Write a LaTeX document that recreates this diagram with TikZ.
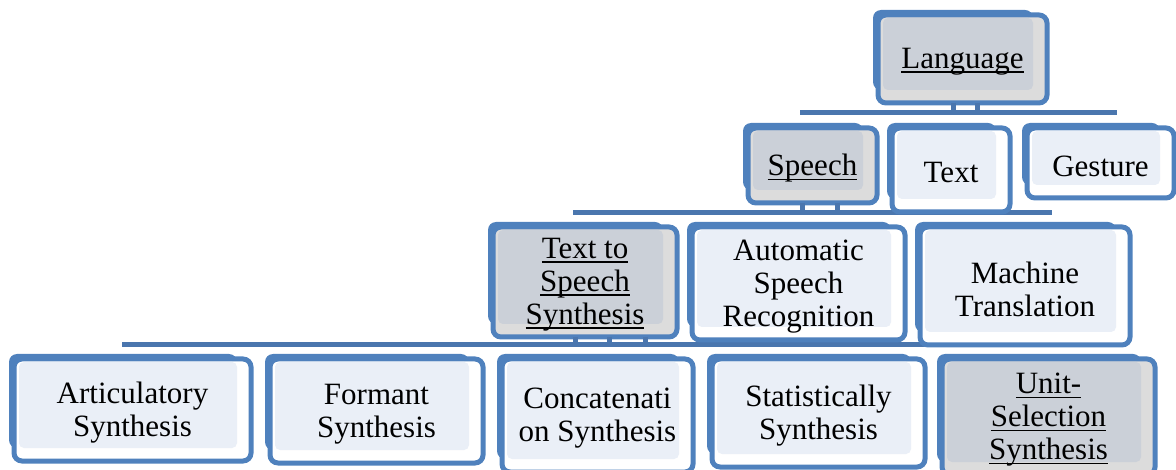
\documentclass[tikz,border=0pt]{standalone}
\usepackage{fontspec}
\setmainfont{Liberation Serif}
\usetikzlibrary{fit,calc}
\definecolor{boxblue}{HTML}{4F81BD}
\definecolor{connblue}{HTML}{4A76AE}
\definecolor{lightfill}{HTML}{EAEFF7}
\definecolor{greyfill}{HTML}{CBD0D8}
\definecolor{greyback}{HTML}{DCDCDC}
\newcommand{\myul}[1]{\setbox0=\hbox{#1}\rlap{\vrule height -2.6pt depth 4pt width \wd0}\box0}
\tikzset{
  back/.style={fill=boxblue, rounded corners=8pt},
  frame/.style={draw=boxblue, line width=5pt, rounded corners=8pt, inner sep=0pt, outer sep=0pt},
  plainframe/.style={frame, fill=white},
  greyframe/.style={frame, fill=greyback},
  plaininner/.style={fill=lightfill, rounded corners=5pt},
  greyinner/.style={fill=greyfill, rounded corners=5pt},
  boxtext/.style={font=\fontsize{31}{33}\selectfont, align=center, inner sep=0pt, text=black},
  conn/.style={draw=connblue, line width=5pt},
}
\newcommand{\mkbox}[7]{%
  \fill[back] (#2,#3) rectangle ({#4-14},{#5-13});
  \node[#6frame, fit={(#2+5,#3+5) (#4,#5)}] (#1) {};
  \fill[#6inner] ({#2+10},{#3+8}) rectangle ({#4-14},{#5-13});
  \node[boxtext] (#1-t) at ([yshift=-3pt]#1.center) {#7};
}
\begin{document}
\begin{tikzpicture}[x=1pt, y=-1pt]
\useasboundingbox (0,0) rectangle (1176,470);
% buses
\coordinate (bus1w) at (800,113);
\coordinate (bus1e) at (1117,113);
\coordinate (bus2w) at (573,213);
\coordinate (bus2e) at (1052,213);
\coordinate (bus3w) at (122,345);
\coordinate (bus3e) at (1113,345);
\draw[conn] (bus1w) -- (bus1e);
\draw[conn] (bus2w) -- (bus2e);
\draw[conn] (bus3w) -- (bus3e);
% boxes
\mkbox{lang}{873}{10}{1047}{103}{grey}{\myul{Language}}
\mkbox{speech}{743}{123}{877}{203}{grey}{\myul{Speech}}
\mkbox{text}{887}{123}{1010}{212}{plain}{Text}
\mkbox{gesture}{1022}{123}{1174}{198}{plain}{Gesture}
\mkbox{tts}{488}{222}{677}{337}{grey}{\myul{Text to}\\\myul{Speech}\\\myul{Synthesis}}
\mkbox{asr}{687}{222}{905}{340}{plain}{Automatic\\Speech\\Recognition}
\mkbox{mt}{915}{222}{1130}{345}{plain}{Machine\\Translation}
\mkbox{art}{9}{354}{251}{461}{plain}{Articulatory\\Synthesis}
\mkbox{form}{265}{354}{483}{463}{plain}{Formant\\Synthesis}
\mkbox{conc}{497}{354}{693}{472}{plain}{Concatenati\\on Synthesis}
\mkbox{stat}{707}{354}{925}{467}{plain}{Statistically\\Synthesis}
\mkbox{unit}{937}{354}{1155}{475}{grey}{\myul{Unit-}\\\myul{Selection}\\\myul{Synthesis}}
% stubs
\foreach \dx in {-9.5,14.5}
  \draw[conn] ([xshift=\dx pt]lang.south) -- ([xshift=\dx pt]lang.south |- bus1w);
\foreach \dx in {-10.5,24.5}
  \draw[conn] ([xshift=\dx pt]speech.south) -- ([xshift=\dx pt]speech.south |- bus2w);
\foreach \dx in {-10,24,60}
  \draw[conn] ([xshift=\dx pt]tts.south) -- ([xshift=\dx pt]tts.south |- bus3w);
\end{tikzpicture}
\end{document}
